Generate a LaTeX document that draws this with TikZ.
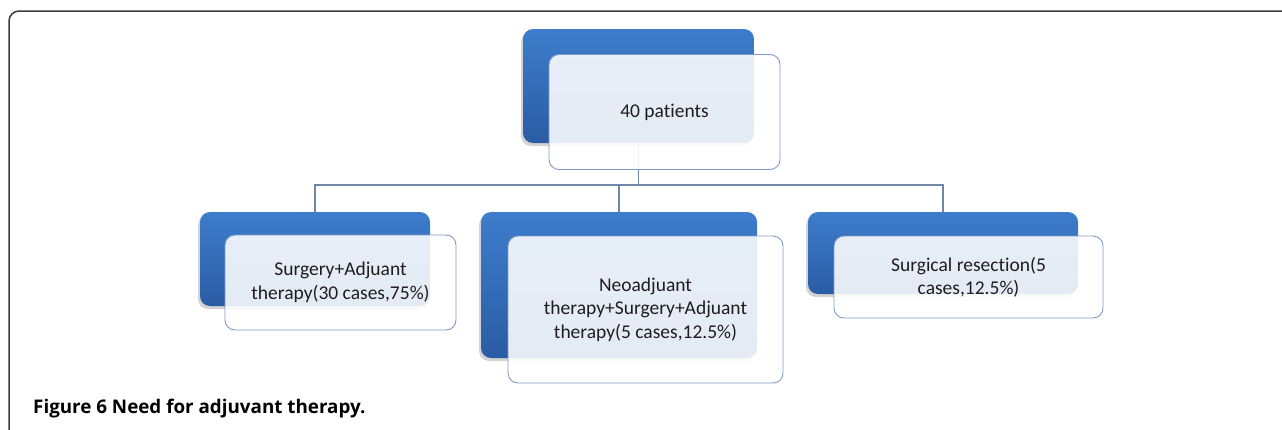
\documentclass[tikz,border=0pt]{standalone}
\usepackage{fontspec}
\setmainfont{Carlito}[Ligatures=NoCommon]
\newfontfamily\capfont{Open Sans}
\usepackage{tikz}
\usetikzlibrary{
  positioning,
  shadows
}
\definecolor{boxtop}{HTML}{3D7DCC}
\definecolor{boxbottom}{HTML}{2A5CA4}
\definecolor{boxline}{HTML}{7E9BC4}
\definecolor{linkgray}{HTML}{6F88A8}
\definecolor{textdark}{HTML}{1E1E1E}
\definecolor{framegray}{HTML}{3A3A3A}

\begin{document}
\begin{tikzpicture}[
        x=1pt, y=-1pt,
        backbox/.style={rounded corners=10pt, top color=boxtop, bottom color=boxbottom,
            draw=none, inner sep=0pt,
            drop shadow={shadow xshift=-2pt, shadow yshift=-3pt, opacity=0.35}},
        frontbox/.style={rounded corners=10pt, draw=boxline, line width=0.9pt,
            fill=white, fill opacity=0.88, text opacity=1, text=textdark,
            inner sep=2pt, align=center, font=\fontsize{19.5}{23.5}\selectfont},
        link/.style={draw=linkgray, line width=1.1pt}
    ]
        \useasboundingbox (0,0) rectangle (1282,429);
        % Moldura
        \draw[framegray, line width=1.5pt, rounded corners=10pt] (1283,11) -- (9,11) -- (9,430);
        % Caixas azuis de fundo
        \node[backbox, minimum width=231pt, minimum height=114pt] (rootback) at (638.5,86) {};
        \node[backbox, minimum width=230pt, minimum height=94pt] (leftback) at (315,259) {};
        \node[backbox, minimum width=276pt, minimum height=146pt] (midback) at (619,285) {};
        \node[backbox, minimum width=270pt, minimum height=82pt] (rightback) at (943,253) {};
        % Ligações
        \coordinate (bus) at (638.5,185);
        \draw[link] (rootback.south) -- (bus);
        \draw[link] (bus) -| (leftback.north);
        \draw[link] (bus) -| (midback.north);
        \draw[link] (bus) -| (rightback.north);
        % Caixas claras com texto
        \node[frontbox, minimum width=231pt, minimum height=115pt] (root) at (664.5,112) {40 patients};
        \node[frontbox, minimum width=231pt, minimum height=95pt] (left) at (340.5,282.5)
            {Surgery+Adjuant\\therapy(30 cases,75\%)};
        \node[frontbox, minimum width=275pt, minimum height=147pt] (mid) at (645.5,309.5)
            {Neoadjuant\\therapy+Surgery+Adjuant\\therapy(5 cases,12.5\%)};
        \node[frontbox, minimum width=269pt, minimum height=82pt] (right) at (968.5,277)
            {Surgical resection(5\\cases,12.5\%)};
        % Legenda
        \node[anchor=base west, inner sep=0pt, font=\capfont\bfseries\fontsize{18.8}{22}\selectfont]
            (caption) at (33,413) {Figure 6 Need for adjuvant therapy.};
    \end{tikzpicture}
\end{document}
